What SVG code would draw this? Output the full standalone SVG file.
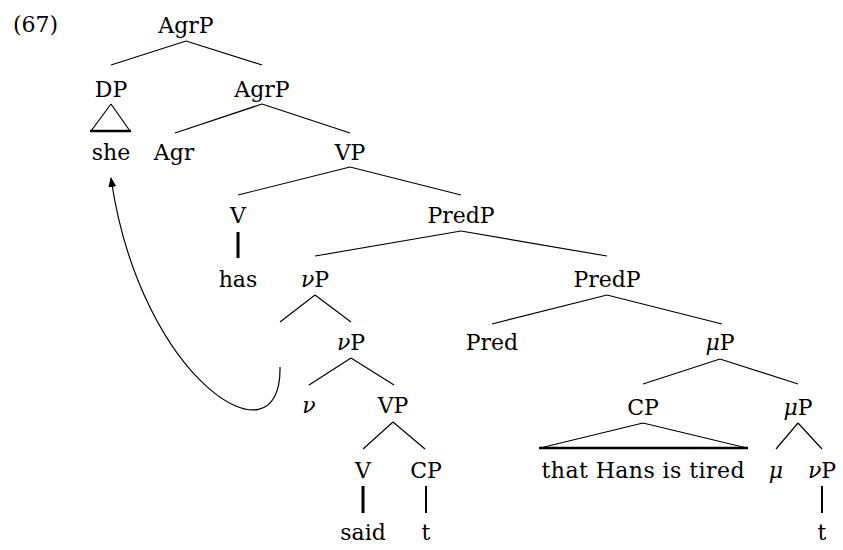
<svg xmlns="http://www.w3.org/2000/svg" width="843" height="550" viewBox="0 0 843 550">
<style>
text{font-family:"DejaVu Serif","Liberation Serif",serif;font-size:22px;fill:#000;text-anchor:middle}
.it{font-style:italic}
.br{stroke:#000;stroke-width:1.2;fill:none}
.thick{stroke:#000;stroke-width:3;fill:none}
.med{stroke:#000;stroke-width:2;fill:none}
</style>
<defs>
<marker id="ah" markerWidth="10" markerHeight="10" refX="9" refY="5" orient="auto" markerUnits="userSpaceOnUse">
<path d="M0,1 L10,5 L0,9 Z" fill="#000"/>
</marker>
</defs>
<text x="13" y="32" style="text-anchor:start">(67)</text>
<g id="connectors">
<line class="br" x1="186" y1="41" x2="111" y2="65"/>
<line class="br" x1="186" y1="41" x2="262" y2="65"/>
<path class="br" d="M111,104 L91,131 M111,104 L130,131"/>
<line class="thick" x1="90" y1="131" x2="131" y2="131" style="stroke-width:2.5"/>
<line class="br" x1="262" y1="104" x2="175" y2="133"/>
<line class="br" x1="262" y1="104" x2="350" y2="133"/>
<line class="br" x1="350" y1="167" x2="238" y2="195"/>
<line class="br" x1="350" y1="167" x2="461" y2="195"/>
<line class="thick" x1="238" y1="232" x2="238" y2="258"/>
<line class="br" x1="461" y1="231" x2="315" y2="256"/>
<line class="br" x1="461" y1="231" x2="607" y2="256"/>
<line class="br" x1="315" y1="295" x2="280" y2="322"/>
<line class="br" x1="315" y1="295" x2="351" y2="322"/>
<line class="br" x1="607" y1="295" x2="492" y2="324"/>
<line class="br" x1="607" y1="295" x2="722" y2="324"/>
<line class="br" x1="351" y1="358" x2="309" y2="385"/>
<line class="br" x1="351" y1="358" x2="394" y2="385"/>
<line class="br" x1="393" y1="422" x2="363" y2="449"/>
<line class="br" x1="393" y1="422" x2="425" y2="449"/>
<line class="thick" x1="363" y1="486" x2="363" y2="513"/>
<line class="med" x1="426" y1="486" x2="426" y2="513"/>
<line class="br" x1="720" y1="359" x2="643" y2="384"/>
<line class="br" x1="720" y1="359" x2="798" y2="384"/>
<path class="br" d="M643,423 L540,448 M643,423 L747,448"/>
<line class="thick" x1="539" y1="448" x2="748" y2="448" style="stroke-width:2.5"/>
<line class="br" x1="798" y1="423" x2="776" y2="449"/>
<line class="br" x1="798" y1="423" x2="822" y2="449"/>
<line class="med" x1="822" y1="486" x2="822" y2="513"/>
<path class="br" d="M280,367 C282,470 140,380 111,178" marker-end="url(#ah)"/>
</g>
<g id="n-agrp"><text x="186" y="33">AgrP</text></g>
<g id="n-dp"><text x="111" y="97">DP</text></g>
<g id="n-she"><text x="111" y="160">she</text></g>
<g id="n-agrp2"><text x="262" y="97">AgrP</text></g>
<g id="n-agr"><text x="174" y="160">Agr</text></g>
<g id="n-vp"><text x="350" y="160">VP</text></g>
<g id="n-v"><text x="238" y="223">V</text></g>
<g id="n-has"><text x="238" y="287">has</text></g>
<g id="n-predp"><text x="461" y="223">PredP</text></g>
<g id="n-vp1"><text x="315" y="287"><tspan class="it">ν</tspan>P</text></g>
<g id="n-predp2"><text x="607" y="287">PredP</text></g>
<g id="n-vp2"><text x="351" y="350"><tspan class="it">ν</tspan>P</text></g>
<g id="n-pred"><text x="492" y="350">Pred</text></g>
<g id="n-mup"><text x="720" y="350"><tspan class="it">μ</tspan>P</text></g>
<g id="n-nu"><text x="309" y="413" class="it">ν</text></g>
<g id="n-vp3"><text x="393" y="413">VP</text></g>
<g id="n-cp"><text x="643" y="415">CP</text></g>
<g id="n-mup2"><text x="798" y="415"><tspan class="it">μ</tspan>P</text></g>
<g id="n-v2"><text x="363" y="478">V</text></g>
<g id="n-cp2"><text x="426" y="478">CP</text></g>
<g id="n-that"><text x="643" y="478" textLength="203" lengthAdjust="spacing">that Hans is tired</text></g>
<g id="n-mu"><text x="776" y="478" class="it">μ</text></g>
<g id="n-vp4"><text x="822" y="478"><tspan class="it">ν</tspan>P</text></g>
<g id="n-said"><text x="363" y="540">said</text></g>
<g id="n-t1"><text x="426" y="540">t</text></g>
<g id="n-t2"><text x="822" y="540">t</text></g>
</svg>
